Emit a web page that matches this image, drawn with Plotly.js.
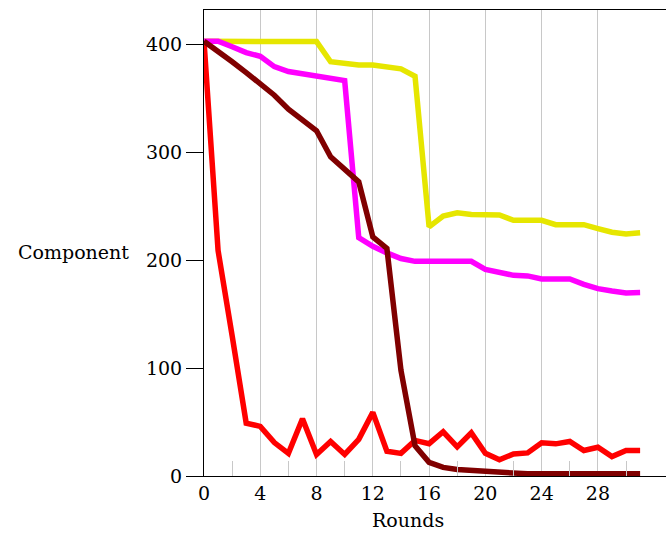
<!DOCTYPE html>
<html>
<head>
<meta charset="utf-8">
<script src="https://cdn.plot.ly/plotly-3.0.1.min.js"></script>
<style>html,body{margin:0;padding:0;background:#fff;}#chart{width:666px;height:536px;}</style>
</head>
<body>
<div id="chart"></div>
<script>
const rounds = [0,1,2,3,4,5,6,7,8,9,10,11,12,13,14,15,16,17,18,19,20,21,22,23,24,25,26,27,28,29,30,31];
const yellowSeries  = [403,403,403,403,403,402.7,402.7,402.7,402.7,384,382.6,381,381,378.6,377.4,370.5,231,241,244,242.4,242.4,242,237,237,237,233,233,233,229.4,226,224.4,225.4];
const magentaSeries = [403,403,398,392.5,389,379.5,375,373,370,367.8,366.5,221,213,206.8,201.6,199,199,199,199,199,191.6,189,186,185.5,182.7,182.7,182.7,177.7,173.7,171.5,169.7,170];
const redSeries     = [403,209,130,49,46,31,21,53,20,32,20,34,59,23,21,33,30,41,27,40,21,15,20.5,21.4,30.7,29.8,32,23.6,26.7,18,23.6,23.6];
const maroonSeries  = [403,394,384,374,364,353,340,330,320,296,285,272.7,221.6,211,98,28,12.7,8,6,5,3.8,3,2,2,2,2,2,2,2,2,2,2];
const xTicks = [0,4,8,12,16,20,24,28];
const yTicks = [0,100,200,300,400];

const font = {family: '"DejaVu Serif", serif', size: 19, color: '#000'};
function tr(y, color) {
  return {x: rounds, y: y, type: 'scatter', mode: 'lines',
          line: {color: color, width: 5.5}, hoverinfo: 'skip', showlegend: false};
}
const data = [
  tr(yellowSeries, '#e6e600'),
  tr(magentaSeries, '#ff00ff'),
  tr(redSeries, '#ff0000'),
  tr(maroonSeries, '#800000')
];
const layout = {
  width: 666, height: 536,
  margin: {l: 204, r: 0, t: 10, b: 60},
  paper_bgcolor: '#fff', plot_bgcolor: '#fff',
  font: font,
  showlegend: false,
  xaxis: {
    range: [0, 32.84], tickvals: xTicks, ticktext: xTicks.map(String),
    ticks: '', showgrid: true, gridcolor: '#c8c8c8', gridwidth: 1,
    zeroline: false, showline: true, linecolor: '#000', linewidth: 1, mirror: true,
    tickfont: font,
    minor: {tick0: 2, dtick: 4, ticks: 'inside', ticklen: 15, tickcolor: '#c8c8c8', tickwidth: 1, showgrid: false}
  },
  yaxis: {
    range: [0, 432], tickvals: yTicks, ticktext: yTicks.map(String),
    ticks: 'outside', ticklen: 17, tickcolor: '#000', tickwidth: 1,
    showgrid: false, zeroline: false, showline: true, linecolor: '#000', linewidth: 1,
    tickfont: font
  },
  annotations: [
    {text: 'Component', xref: 'paper', yref: 'paper', x: 0, y: 0.5, xanchor: 'right', yanchor: 'middle',
     xshift: -73, yshift: -9, showarrow: false, font: font},
    {text: 'Rounds', xref: 'paper', yref: 'paper', x: 0, y: 0, xanchor: 'center', yanchor: 'top',
     xshift: 204, yshift: -31, showarrow: false, font: font}
  ]
};
Plotly.newPlot('chart', data, layout, {displayModeBar: false, staticPlot: true});
</script>
</body>
</html>
